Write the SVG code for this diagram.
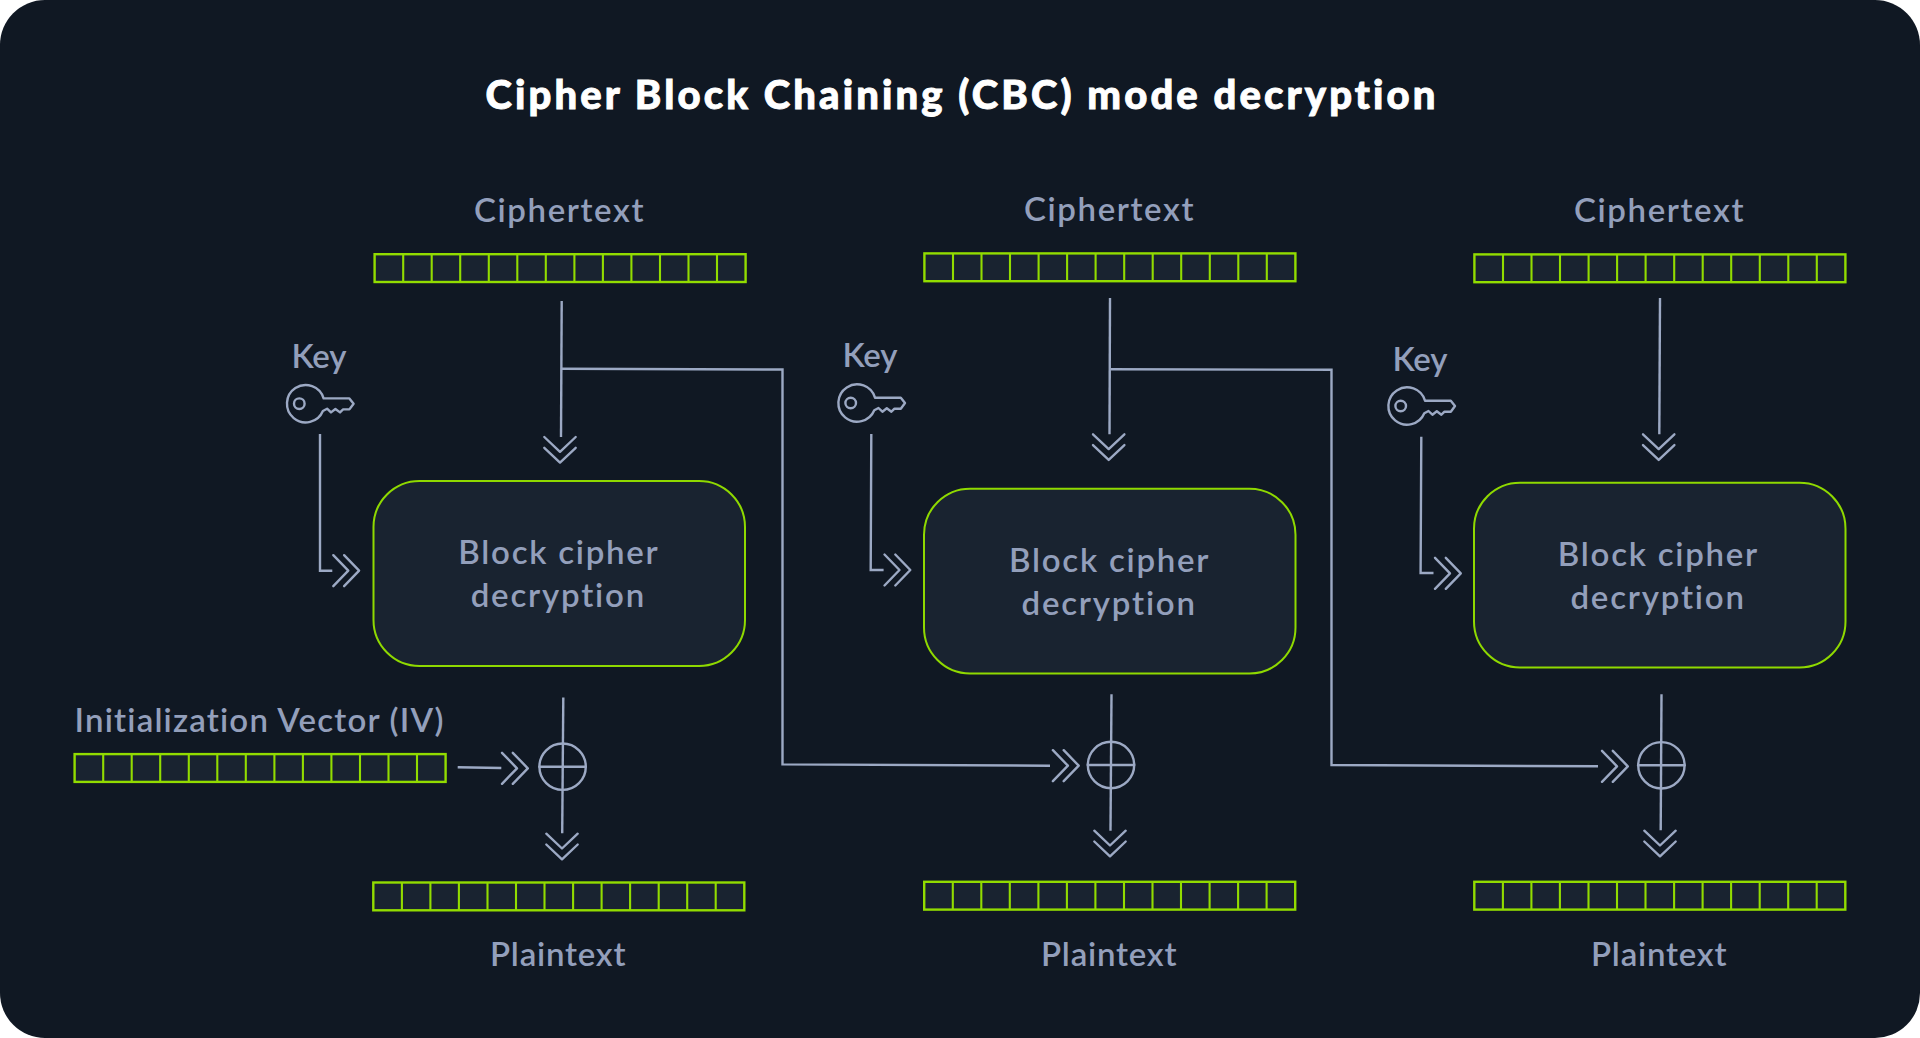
<svg xmlns="http://www.w3.org/2000/svg" width="1920" height="1038" viewBox="0 0 1920 1038">
<style>
.t{font-family:"Lato","Noto Sans",sans-serif;font-size:33px;font-weight:600;fill:#939fbb;font-variant-ligatures:none}
.h{font-family:"Lato","Noto Sans",sans-serif;font-size:40px;font-weight:900;fill:#ffffff;stroke:#ffffff;stroke-width:.9;font-variant-ligatures:none}
.box{fill:#192330;stroke:#8fd900;stroke-width:2}
.bf{fill:#192330;stroke:#92dc00;stroke-width:2.4}
.bl{stroke:#92dc00;stroke-width:2.1;fill:none}
.ln{fill:none;stroke:#9ca9c4;stroke-width:2.4}
.ic{fill:none;stroke:#9ca9c4;stroke-width:2.4;stroke-linecap:round;stroke-linejoin:round}
</style>
<defs>
<g id="bar">
<rect class="bf" x="0.6" y="0.8" width="371" height="27.8"/>
<path class="bl" d="M29.2 1V28.4M57.7 1V28.4M86.2 1V28.4M114.8 1V28.4M143.3 1V28.4M171.8 1V28.4M200.4 1V28.4M228.9 1V28.4M257.4 1V28.4M286 1V28.4M314.5 1V28.4M343 1V28.4"/>
</g>
<g id="chevD"><path class="ic" d="M-15.7 0L0 14.8L15.7 0M-15.7 10.8L0 25.6L15.7 10.8"/></g>
<g id="chevR"><path class="ic" d="M0 -15.5L15 0L0 15.5M10.8 -15.5L25.8 0L10.8 15.5"/></g>
<g id="keyIcon">
<path class="ic" d="M18 -5.3H43.8L48 0L43.8 5.7H37.5L34.4 8.7L29.8 5.3L25.4 8.7L21.5 5L17.3 7.3A18.7 18.7 0 1 1 18 -5.3Z"/>
<circle class="ic" cx="-6.3" cy="0" r="5.3"/>
</g>
<g id="xor">
<circle class="ic" cx="0" cy="0" r="23.2"/>
<path class="ic" d="M-23.2 0H23.2"/>
</g>
</defs>

<rect id="background" x="0" y="0" width="1920" height="1038" rx="45" ry="45" fill="#101823"/>
<text id="title" class="h" x="485.5" y="109" textLength="950" lengthAdjust="spacing">Cipher Block Chaining (CBC) mode decryption</text>

<g id="connectors">
<path class="ln" d="M561.7 301L561 437"/>
<path class="ln" d="M562 368.8L782.5 369.5V764.4L1050 765.7"/>
<path class="ln" d="M320 434V570.7H332.3"/>
<path class="ln" d="M563.3 697.5L562.2 833.3"/>
<path class="ln" d="M457.7 767.3L501.3 768"/>
<path class="ln" d="M1110 298L1109.5 434.3"/>
<path class="ln" d="M1110.5 369.3L1331.5 369.7V765L1598 766.3"/>
<path class="ln" d="M871.3 434L870.7 570H883.6"/>
<path class="ln" d="M1111.5 694.3L1110.5 830.7"/>
<path class="ln" d="M1660 298L1659.3 434.3"/>
<path class="ln" d="M1421.3 436.7L1420.6 573H1433.5"/>
<path class="ln" d="M1661.5 694.3L1660.7 830.3"/>
<use href="#chevD" x="560" y="437"/>
<use href="#chevD" x="1108.7" y="434.3"/>
<use href="#chevD" x="1658.7" y="434.3"/>
<use href="#chevD" x="562" y="833.7"/>
<use href="#chevD" x="1110" y="830.7"/>
<use href="#chevD" x="1660" y="830.7"/>
<use href="#chevR" x="333.3" y="570.7"/>
<use href="#chevR" x="884.5" y="570"/>
<use href="#chevR" x="1435" y="573.3"/>
<use href="#chevR" x="502" y="768.3"/>
<use href="#chevR" x="1052.9" y="765.7"/>
<use href="#chevR" x="1602" y="766.3"/>
</g>

<g id="col1-ciphertext"><text class="t" x="474" y="222" textLength="169.5" lengthAdjust="spacing">Ciphertext</text><use href="#bar" x="374" y="253.4"/></g>
<g id="col1-key"><text class="t" x="291.5" y="368" textLength="55" lengthAdjust="spacing">Key</text><use href="#keyIcon" x="305.6" y="403.7"/></g>
<g id="col1-block"><rect class="box" x="373.5" y="481" width="371.5" height="185" rx="46" ry="46"/><text class="t" x="458.3" y="564" textLength="199.5" lengthAdjust="spacing">Block cipher</text><text class="t" x="470.7" y="607" textLength="173.5" lengthAdjust="spacing">decryption</text></g>
<g id="iv"><text class="t" x="74.5" y="731.7" textLength="369" lengthAdjust="spacing">Initialization Vector (IV)</text><use href="#bar" x="74" y="753.3"/></g>
<g id="col1-xor"><use href="#xor" x="562.6" y="766.7"/></g>
<g id="col1-plaintext"><use href="#bar" x="372.7" y="881.7"/><text class="t" x="490" y="966" textLength="135.5" lengthAdjust="spacing">Plaintext</text></g>

<g id="col2-ciphertext"><text class="t" x="1024" y="221" textLength="169.5" lengthAdjust="spacing">Ciphertext</text><use href="#bar" x="923.8" y="252.6"/></g>
<g id="col2-key"><text class="t" x="842.5" y="367" textLength="55" lengthAdjust="spacing">Key</text><use href="#keyIcon" x="857" y="403"/></g>
<g id="col2-block"><rect class="box" x="924" y="488.7" width="371.5" height="184.8" rx="46" ry="46"/><text class="t" x="1009" y="571.7" textLength="199.5" lengthAdjust="spacing">Block cipher</text><text class="t" x="1021.5" y="615" textLength="173.5" lengthAdjust="spacing">decryption</text></g>
<g id="col2-xor"><use href="#xor" x="1111" y="765"/></g>
<g id="col2-plaintext"><use href="#bar" x="923.6" y="881"/><text class="t" x="1041" y="966" textLength="135.5" lengthAdjust="spacing">Plaintext</text></g>

<g id="col3-ciphertext"><text class="t" x="1574" y="222" textLength="169.5" lengthAdjust="spacing">Ciphertext</text><use href="#bar" x="1473.8" y="253.6"/></g>
<g id="col3-key"><text class="t" x="1392.5" y="370.5" textLength="55" lengthAdjust="spacing">Key</text><use href="#keyIcon" x="1407" y="406"/></g>
<g id="col3-block"><rect class="box" x="1474" y="482.7" width="371.5" height="184.8" rx="46" ry="46"/><text class="t" x="1557.8" y="565.5" textLength="199.5" lengthAdjust="spacing">Block cipher</text><text class="t" x="1570.4" y="609" textLength="173.5" lengthAdjust="spacing">decryption</text></g>
<g id="col3-xor"><use href="#xor" x="1661.4" y="765.3"/></g>
<g id="col3-plaintext"><use href="#bar" x="1473.7" y="881"/><text class="t" x="1591" y="966" textLength="135.5" lengthAdjust="spacing">Plaintext</text></g>
</svg>
